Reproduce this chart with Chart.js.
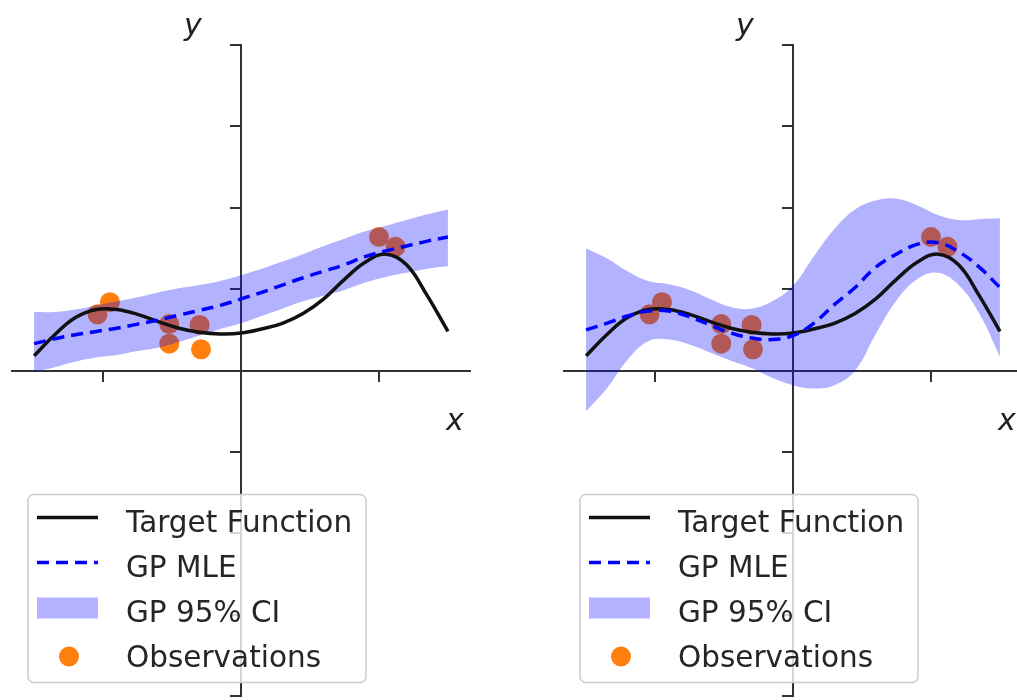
<!DOCTYPE html>
<html>
<head>
<meta charset="utf-8">
<script src="https://cdn.jsdelivr.net/npm/chart.js@4"></script>
<style>
  body { margin: 0; background: #fff; overflow: hidden; width: 1017px; height: 700px; position: relative; }
  canvas { position: absolute; top: 0; }
</style>
</head>
<body>
<canvas id="leftChart" width="520" height="706" style="left:0"></canvas>
<canvas id="rightChart" width="520" height="706" style="left:552px"></canvas>
<script>
// sample positions along x
let xs = [-1.5, -1.35, -1.2, -1.05, -0.9, -0.75, -0.6, -0.45, -0.3, -0.15, 0,
  0.15, 0.3, 0.45, 0.6, 0.75, 0.9, 1.05, 1.2, 1.35, 1.5];

// target function (same in both panels)
let target = [0.18, 0.44, 0.65, 0.75, 0.75, 0.69, 0.60, 0.52, 0.47, 0.45, 0.46,
  0.51, 0.58, 0.70, 0.88, 1.12, 1.33, 1.43, 1.30, 0.92, 0.48];

// left panel GP
let leftMean = [0.33, 0.39, 0.44, 0.48, 0.52, 0.57, 0.62, 0.68, 0.74, 0.80, 0.88,
  0.96, 1.05, 1.14, 1.22, 1.30, 1.40, 1.47, 1.53, 1.59, 1.64];
let leftUpper = [0.72, 0.72, 0.75, 0.80, 0.85, 0.90, 0.96, 1.01, 1.05, 1.10, 1.17,
  1.25, 1.34, 1.43, 1.53, 1.62, 1.71, 1.78, 1.85, 1.92, 1.98];
let leftLower = [-0.02, 0.04, 0.11, 0.16, 0.19, 0.24, 0.28, 0.35, 0.43, 0.51, 0.58,
  0.67, 0.76, 0.85, 0.92, 0.99, 1.08, 1.15, 1.20, 1.25, 1.28];

// right panel GP
let rightMean = [0.50, 0.58, 0.67, 0.73, 0.73, 0.66, 0.56, 0.46, 0.40, 0.38, 0.43,
  0.58, 0.81, 1.02, 1.27, 1.43, 1.55, 1.57, 1.46, 1.27, 1.02];
let rightUpper = [1.50, 1.38, 1.22, 1.10, 1.06, 0.99, 0.88, 0.78, 0.76, 0.85, 1.04,
  1.40, 1.74, 1.98, 2.09, 2.11, 2.03, 1.91, 1.85, 1.86, 1.87];
let rightLower = [-0.50, -0.22, 0.13, 0.36, 0.38, 0.32, 0.22, 0.12, 0.03, -0.09, -0.18,
  -0.22, -0.18, 0.00, 0.45, 0.86, 1.12, 1.20, 1.05, 0.70, 0.17];

// observations
let obsX = [-1.04, -0.95, -0.52, -0.52, -0.30, -0.29, 1.00, 1.12];
let obsY = [0.69, 0.84, 0.57, 0.33, 0.56, 0.26, 1.64, 1.52];

let xTicks = [-1, 0, 1];
let yTicks = [-4, -3, -2, -1, 0, 1, 2, 3, 4];
let legendLabels = ["Target Function", "GP MLE", "GP 95% CI", "Observations"];

let bandColor = "rgba(0,0,255,0.3)";
let obsColor = "#ff7f0e";

function pts(ys) {
  return xs.map((x, i) => ({ x: x, y: ys[i] }));
}

// axis letters and the matplotlib style legend
let overlay = {
  id: "overlay",
  afterDraw(chart) {
    let ctx = chart.ctx;
    let x0 = chart.scales.x.getPixelForValue(0);
    let y0 = chart.scales.y.getPixelForValue(0);
    ctx.save();
    ctx.fillStyle = "#222";
    ctx.font = "italic 30px 'DejaVu Sans'";
    ctx.textAlign = "center";
    ctx.textBaseline = "alphabetic";
    ctx.fillText("y", x0 - 48, y0 - 336);
    ctx.fillText("x", x0 + 214, y0 + 59);

    let bx = x0 - 213, by = y0 + 124, bw = 338, bh = 188;
    ctx.beginPath();
    ctx.roundRect(bx, by, bw, bh, 6);
    ctx.fillStyle = "rgba(255,255,255,0.8)";
    ctx.fill();
    ctx.strokeStyle = "#cccccc";
    ctx.lineWidth = 1.5;
    ctx.stroke();

    ctx.font = "29.5px 'DejaVu Sans'";
    ctx.textAlign = "left";
    legendLabels.forEach((label, i) => {
      let base = y0 + 161 + i * 45;
      if (i == 0 || i == 1) {
        ctx.beginPath();
        ctx.strokeStyle = i == 0 ? "#111" : "blue";
        ctx.lineWidth = 3.5;
        ctx.setLineDash(i == 0 ? [] : [12, 7]);
        ctx.moveTo(bx + 9, base - 14);
        ctx.lineTo(bx + 70, base - 14);
        ctx.stroke();
        ctx.setLineDash([]);
      } else if (i == 2) {
        ctx.fillStyle = bandColor;
        ctx.fillRect(bx + 9, base - 24, 61, 21);
      } else {
        ctx.beginPath();
        ctx.fillStyle = obsColor;
        ctx.arc(bx + 41, base - 10, 10, 0, Math.PI * 2);
        ctx.fill();
      }
      ctx.fillStyle = "#262626";
      ctx.fillText(label, bx + 98, base);
    });
    ctx.restore();
  }
};

function axisOptions(ticks, min, max, pos) {
  return {
    type: "linear",
    min: min,
    max: max,
    position: pos,
    z: 1,
    grid: { drawOnChartArea: false, drawTicks: true, tickLength: 10, color: "#333", lineWidth: 2 },
    border: { display: true, color: "#333", width: 2 },
    ticks: { display: false },
    afterBuildTicks: (scale) => { scale.ticks = ticks.map(v => ({ value: v })); }
  };
}

function makeChart(id, mean, upper, lower) {
  let ctx = document.getElementById(id).getContext("2d");
  let smooth = { pointRadius: 0, tension: 0.4, fill: false };
  return new Chart(ctx, {
    type: "line",
    data: {
      datasets: [
        Object.assign({
          label: "Target Function",
          data: pts(target),
          borderColor: "#111",
          borderWidth: 3.5,
          order: 2
        }, smooth),
        Object.assign({
          label: "GP MLE",
          data: pts(mean),
          borderColor: "blue",
          borderWidth: 3.5,
          borderDash: [12, 7],
          order: 1
        }, smooth),
        Object.assign({
          label: "lower",
          data: pts(lower),
          borderColor: "transparent",
          borderWidth: 0,
          order: 3
        }, smooth),
        Object.assign({}, smooth, {
          label: "GP 95% CI",
          data: pts(upper),
          borderColor: "transparent",
          borderWidth: 0,
          backgroundColor: bandColor,
          fill: "-1",
          order: 3
        }),
        {
          label: "Observations",
          data: obsX.map((x, i) => ({ x: x, y: obsY[i] })),
          showLine: false,
          pointRadius: 10,
          pointBackgroundColor: obsColor,
          pointBorderWidth: 0,
          borderColor: obsColor,
          order: 4
        }
      ]
    },
    options: {
      responsive: false,
      animation: false,
      layout: { padding: { left: 12, right: 50, top: 45, bottom: 3 } },
      scales: {
        x: axisOptions(xTicks, -1.66, 1.66, { y: 0 }),
        y: axisOptions(yTicks, -4, 4, { x: 0 })
      },
      plugins: {
        legend: { display: false },
        tooltip: { enabled: false }
      }
    },
    plugins: [overlay]
  });
}

window.onload = function() {
  makeChart("leftChart", leftMean, leftUpper, leftLower);
  makeChart("rightChart", rightMean, rightUpper, rightLower);
};
</script>
</body>
</html>
